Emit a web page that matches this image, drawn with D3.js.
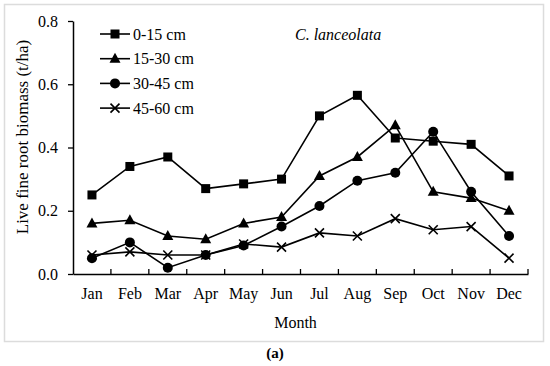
<!DOCTYPE html>
<html lang="en">
<head>
    <meta charset="UTF-8">
    <title>Live fine root biomass</title>
    <script src="https://d3js.org/d3.v7.min.js"></script>
    <style>
        body { margin: 0; background: #fff; }
        text { font-family: "Liberation Serif", "Times New Roman", serif; fill: #000; }
    </style>
</head>
<body>
<svg width="550" height="366"></svg>
<script>
    var months = ["Jan", "Feb", "Mar", "Apr", "May", "Jun", "Jul", "Aug", "Sep", "Oct", "Nov", "Dec"];
    var depths = ["0-15 cm", "15-30 cm", "30-45 cm", "45-60 cm"];
    var symbols = ["square", "triangle", "circle", "cross"];
    var d0_15 = [0.25, 0.34, 0.37, 0.27, 0.285, 0.30, 0.50, 0.565, 0.43, 0.42, 0.41, 0.31];
    var d15_30 = [0.16, 0.17, 0.12, 0.11, 0.16, 0.18, 0.31, 0.37, 0.47, 0.26, 0.24, 0.20];
    var d30_45 = [0.05, 0.10, 0.02, 0.06, 0.09, 0.15, 0.215, 0.295, 0.32, 0.45, 0.26, 0.12];
    var d45_60 = [0.06, 0.07, 0.06, 0.06, 0.095, 0.085, 0.13, 0.12, 0.175, 0.14, 0.15, 0.05];
    var yTicks = [0, 0.2, 0.4, 0.6, 0.8];

    var series = [d0_15, d15_30, d30_45, d45_60];

    var svg = d3.select("svg");

    // light frame around the figure
    svg.append("rect")
        .attr("x", 4.5).attr("y", 4.5)
        .attr("width", 539).attr("height", 337)
        .attr("fill", "none")
        .attr("stroke", "#dcdcdc")
        .attr("stroke-width", 1.5);

    var plotLeft = 73, plotRight = 528, plotTop = 21, plotBottom = 274;

    var x = d3.scaleBand().domain(months).range([plotLeft, plotRight]);
    var y = d3.scaleLinear().domain([0, 0.8]).range([plotBottom, plotTop]);

    // y axis
    var yAxis = svg.append("g")
        .attr("transform", "translate(" + plotLeft + ",0)")
        .call(d3.axisLeft(y).tickValues(yTicks).tickFormat(d3.format(".1f")).tickSize(5).tickSizeOuter(0));
    yAxis.select(".domain").attr("stroke", "#000").attr("stroke-width", 1.5);
    yAxis.selectAll(".tick line").attr("stroke", "#000").attr("stroke-width", 1.3);
    yAxis.selectAll(".tick text").attr("font-size", 16).attr("x", -15)
        .style("font-family", "Liberation Serif");

    // x axis, ticks between categories pointing up
    var xAxis = svg.append("g")
        .attr("transform", "translate(0," + plotBottom + ")")
        .call(d3.axisBottom(x).tickSize(0).tickSizeOuter(0));
    xAxis.select(".domain").attr("stroke", "#000").attr("stroke-width", 1.5);
    xAxis.selectAll(".tick text").attr("font-size", 16).attr("dy", "1.35em")
        .style("font-family", "Liberation Serif");
    var bounds = months.map(function (m) { return x(m); }).concat([plotRight]).slice(1);
    svg.append("g").selectAll("line")
        .data(bounds)
        .enter().append("line")
        .attr("x1", function (d) { return d; })
        .attr("x2", function (d) { return d; })
        .attr("y1", plotBottom)
        .attr("y2", plotBottom - 5)
        .attr("stroke", "#000")
        .attr("stroke-width", 1.3);

    var line = d3.line()
        .x(function (d, i) { return x(months[i]) + x.bandwidth() / 2; })
        .y(function (d) { return y(d); });

    function drawMarker(g, kind) {
        if (kind === "square") {
            g.append("rect").attr("x", -4.5).attr("y", -4.5).attr("width", 9).attr("height", 9).attr("fill", "#000");
        } else if (kind === "triangle") {
            g.append("path").attr("d", "M0,-6L5.5,4L-5.5,4Z").attr("fill", "#000");
        } else if (kind === "circle") {
            g.append("circle").attr("r", 5).attr("fill", "#000");
        } else {
            g.append("path").attr("d", "M-4.5,-4.5L4.5,4.5M-4.5,4.5L4.5,-4.5")
                .attr("stroke", "#000").attr("stroke-width", 1.6).attr("fill", "none");
        }
    }

    series.forEach(function (vals, s) {
        svg.append("path")
            .datum(vals)
            .attr("d", line)
            .attr("fill", "none")
            .attr("stroke", "#000")
            .attr("stroke-width", 1.6);
        svg.append("g").selectAll("g")
            .data(vals)
            .enter().append("g")
            .attr("transform", function (d, i) {
                return "translate(" + (x(months[i]) + x.bandwidth() / 2) + "," + y(d) + ")";
            })
            .each(function () { drawMarker(d3.select(this), symbols[s]); });
    });

    // legend
    var legend = svg.append("g").selectAll("g")
        .data(depths)
        .enter().append("g")
        .attr("transform", function (d, i) { return "translate(100," + (34 + i * 24.7) + ")"; });
    legend.append("line")
        .attr("x1", 0).attr("x2", 30)
        .attr("stroke", "#000").attr("stroke-width", 1.6);
    legend.append("g")
        .attr("transform", "translate(15,0)")
        .each(function (d, i) { drawMarker(d3.select(this), symbols[i]); });
    legend.append("text")
        .attr("x", 33).attr("dy", "0.35em")
        .attr("font-size", 16)
        .text(function (d) { return d; });

    svg.append("text")
        .attr("x", 295).attr("y", 40)
        .attr("font-size", 16)
        .attr("font-style", "italic")
        .text("C. lanceolata");

    svg.append("text")
        .attr("transform", "translate(28,137) rotate(-90)")
        .attr("text-anchor", "middle")
        .attr("font-size", 17)
        .text("Live fine root biomass (t/ha)");

    svg.append("text")
        .attr("x", (plotLeft + plotRight) / 2 - 5).attr("y", 328)
        .attr("text-anchor", "middle")
        .attr("font-size", 16)
        .text("Month");

    svg.append("text")
        .attr("x", 275).attr("y", 358)
        .attr("text-anchor", "middle")
        .attr("font-size", 15)
        .attr("font-weight", "bold")
        .text("(a)");
</script>
</body>
</html>
